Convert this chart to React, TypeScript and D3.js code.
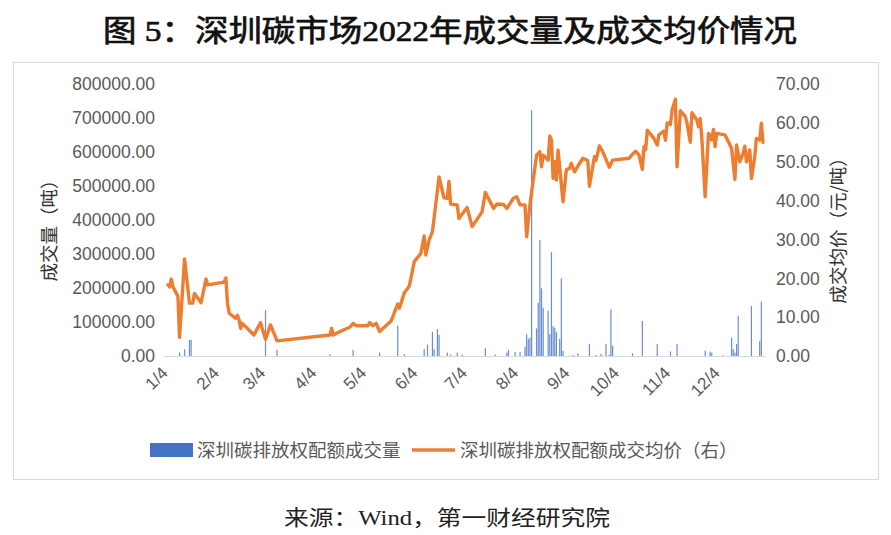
import React from "react";
import * as d3 from "d3";

const priceDates = [
  "2022-01-04","2022-01-05","2022-01-06","2022-01-07","2022-01-10","2022-01-11","2022-01-14","2022-01-17","2022-01-19","2022-01-20",
  "2022-01-24","2022-01-27","2022-01-28","2022-02-07","2022-02-08","2022-02-09","2022-02-10","2022-02-14","2022-02-15","2022-02-16",
  "2022-02-17","2022-02-18","2022-02-25","2022-03-01","2022-03-02","2022-03-04","2022-03-07","2022-03-11","2022-04-12","2022-04-13",
  "2022-04-14","2022-04-20","2022-04-24","2022-04-26","2022-04-28","2022-05-05","2022-05-06","2022-05-08","2022-05-10","2022-05-12",
  "2022-05-19","2022-05-23","2022-05-24","2022-05-27","2022-05-30","2022-06-02","2022-06-06","2022-06-08","2022-06-09","2022-06-11",
  "2022-06-13","2022-06-17","2022-06-20","2022-06-22","2022-06-23","2022-06-24","2022-06-28","2022-06-29","2022-07-04","2022-07-07",
  "2022-07-13","2022-07-15","2022-07-20","2022-07-22","2022-07-26","2022-07-28","2022-08-01","2022-08-03","2022-08-05","2022-08-08",
  "2022-08-09","2022-08-11","2022-08-15","2022-08-17","2022-08-18","2022-08-19","2022-08-22","2022-08-23","2022-08-24","2022-08-25",
  "2022-08-26","2022-08-27","2022-08-28","2022-08-31","2022-09-02","2022-09-04","2022-09-05","2022-09-07","2022-09-09","2022-09-12",
  "2022-09-15","2022-09-16","2022-09-19","2022-09-20","2022-09-22","2022-09-24","2022-09-28","2022-09-30","2022-10-10","2022-10-12",
  "2022-10-14","2022-10-16","2022-10-18","2022-10-19","2022-10-20","2022-10-21","2022-10-25","2022-10-27","2022-10-28","2022-10-31",
  "2022-11-01","2022-11-02","2022-11-04","2022-11-05","2022-11-07","2022-11-08","2022-11-10","2022-11-13","2022-11-14","2022-11-16",
  "2022-11-17","2022-11-20","2022-11-21","2022-11-22","2022-11-23","2022-11-25","2022-11-27","2022-11-29","2022-11-30","2022-12-01",
  "2022-12-02","2022-12-07","2022-12-09","2022-12-11","2022-12-13","2022-12-14","2022-12-16","2022-12-18","2022-12-19","2022-12-20",
  "2022-12-22","2022-12-23","2022-12-25","2022-12-26","2022-12-28","2022-12-29","2022-12-30"
];
const priceValues = [
  18.3,17.8,19.8,17.8,15.3,4.8,25.0,13.6,13.6,16.1,
  13.7,19.8,18.3,19.0,20.1,13.6,11.0,9.7,10.5,9.3,
  7.1,8.4,5.4,8.6,7.1,4.3,8.0,3.9,5.4,7.1,
  5.4,6.7,7.4,8.4,7.8,7.8,8.6,7.8,8.4,6.3,
  9.0,13.4,12.3,16.3,18.0,24.3,26.4,30.9,26.0,29.9,
  32.0,46.1,40.7,40.6,44.9,39.1,38.9,35.4,38.2,33.3,
  37.1,42.1,38.0,39.1,39.0,38.0,40.6,41.0,38.9,38.9,
  30.7,38.9,51.7,52.6,48.7,51.7,50.4,56.6,55.6,45.7,
  50.0,45.3,53.0,39.7,47.9,48.3,49.6,47.4,48.9,50.9,
  50.3,43.7,51.3,50.4,54.1,52.6,48.6,50.4,50.9,51.9,
  52.7,51.7,48.0,53.9,53.1,58.1,56.0,54.3,56.9,57.9,
  55.5,60.0,59.6,63.3,66.1,48.7,63.1,61.6,60.0,55.0,
  62.6,60.7,59.0,61.1,56.0,41.0,57.3,55.6,58.3,53.9,
  57.3,56.9,55.2,53.4,45.5,54.3,50.0,52.2,54.0,50.0,
  53.0,45.7,51.3,56.0,55.6,59.9,55.0
];

const volumeDates = [
  "2022-01-11","2022-01-14","2022-01-17","2022-01-18","2022-03-04","2022-03-11","2022-04-12","2022-04-26","2022-05-12","2022-05-23",
  "2022-05-27","2022-06-08","2022-06-10","2022-06-13","2022-06-14","2022-06-16","2022-06-17","2022-06-22","2022-06-24","2022-06-28",
  "2022-07-01","2022-07-15","2022-07-21","2022-07-28","2022-07-29","2022-08-02","2022-08-05","2022-08-08","2022-08-09","2022-08-10",
  "2022-08-11","2022-08-12","2022-08-15","2022-08-16","2022-08-17","2022-08-18","2022-08-19","2022-08-22","2022-08-23","2022-08-24",
  "2022-08-25","2022-08-26","2022-08-27","2022-08-29","2022-08-30","2022-08-31","2022-09-06","2022-09-09","2022-09-16","2022-09-20",
  "2022-09-23","2022-09-26","2022-09-28","2022-09-29","2022-09-30","2022-10-12","2022-10-18","2022-10-27","2022-11-04","2022-11-08",
  "2022-11-25","2022-11-28","2022-11-29","2022-12-06","2022-12-11","2022-12-12","2022-12-13","2022-12-14","2022-12-15","2022-12-23",
  "2022-12-28","2022-12-29"
];
const volumeValues = [
  10000,20000,47000,48000,135000,18000,5000,18000,10000,89000,
  5000,20000,34000,71000,20000,79000,62000,10000,4000,10000,
  4000,23000,4000,10000,18000,12000,12000,27000,64000,50000,
  54000,723000,81000,157000,341000,199000,142000,133000,64000,305000,
  88000,83000,71000,50000,228000,15000,3000,8000,36000,3000,
  6000,36000,4000,137000,30000,8000,103000,35000,13000,35000,
  16000,13000,10000,2000,54000,20000,10000,35000,118000,147000,
  44000,160000
];

const volumeTicks = [0, 100000, 200000, 300000, 400000, 500000, 600000, 700000, 800000];
const priceTicks = [0, 10, 20, 30, 40, 50, 60, 70];
const xTickDates = ["2022-01-04","2022-02-04","2022-03-04","2022-04-04","2022-05-04","2022-06-04","2022-07-04","2022-08-04","2022-09-04","2022-10-04","2022-11-04","2022-12-04"];
const xTickLabels = ["1/4","2/4","3/4","4/4","5/4","6/4","7/4","8/4","9/4","10/4","11/4","12/4"];

const seriesNames = ["深圳碳排放权配额成交量", "深圳碳排放权配额成交均价（右）"];
const titleText = "图 5：深圳碳市场2022年成交量及成交均价情况";
const sourceText = "来源：Wind，第一财经研究院";
const leftAxisTitle = "成交量（吨）";
const rightAxisTitle = "成交均价（元/吨）";

const parse = d3.timeParse("%Y-%m-%d");

export default function App() {
  const W = 891, H = 535;
  const x = d3.scaleTime()
    .domain([parse("2022-01-04") as Date, parse("2022-12-30") as Date])
    .range([168, 763]);
  const yV = d3.scaleLinear().domain([0, 800000]).range([356, 84]);
  const yP = d3.scaleLinear().domain([0, 70]).range([356, 84]);

  const pricePts = priceDates.map((d, i) => ({ d: parse(d) as Date, v: priceValues[i] }));
  const volPts = volumeDates.map((d, i) => ({ d: parse(d) as Date, v: volumeValues[i] }));

  const line = d3.line<{ d: Date; v: number }>()
    .x(p => x(p.d))
    .y(p => yP(p.v));

  const numFont = "'Liberation Sans', Arial, sans-serif";
  const cjkFont = "'Noto Sans CJK SC', 'Liberation Sans', sans-serif";
  const axisColor = "#595959";

  return (
    <svg width={W} height={H} style={{ position: "absolute", left: 0, top: 0, background: "#fff" }}>
      <rect x={0} y={0} width={W} height={H} fill="#fff" />
      <text x={103} y={41} fontSize={30} fontWeight="normal" fill="#111" stroke="#111" strokeWidth={0.7}
        fontFamily="'Liberation Serif', 'Noto Sans CJK SC', serif"
        textLength={694} lengthAdjust="spacingAndGlyphs">{titleText}</text>

      <rect x={13.5} y={62.5} width={865} height={417} fill="none" stroke="#d9d9d9" strokeWidth={1} />

      {/* axis baseline */}
      <line x1={164} x2={766} y1={356.5} y2={356.5} stroke="#d9d9d9" strokeWidth={1} />

      {/* volume bars */}
      <g>
        {volPts.map((p, i) => (
          <rect key={i} x={x(p.d) - 0.6} width={1.2} y={yV(p.v)} height={356 - yV(p.v)} fill="#4472C4" opacity={0.8} />
        ))}
      </g>

      {/* price line */}
      <path d={line(pricePts) || ""} fill="none" stroke="#ED7D31" strokeWidth={3.4}
        strokeLinejoin="round" strokeLinecap="round" />

      {/* left axis */}
      <g fontFamily={numFont} fontSize={17.5} fill={axisColor} textAnchor="end">
        {volumeTicks.map(t => (
          <text key={t} x={155} y={yV(t)} dy="0.36em">{t.toFixed(2)}</text>
        ))}
      </g>
      {/* right axis */}
      <g fontFamily={numFont} fontSize={17.5} fill={axisColor} textAnchor="start">
        {priceTicks.map(t => (
          <text key={t} x={776} y={yP(t)} dy="0.36em">{t.toFixed(2)}</text>
        ))}
      </g>
      {/* x axis labels */}
      <g fontFamily={numFont} fontSize={17} fill={axisColor} textAnchor="end">
        {xTickDates.map((d, i) => {
          const px = x(parse(d) as Date);
          return (
            <text key={d} transform={`translate(${px + 1},${374}) rotate(-45)`}>{xTickLabels[i]}</text>
          );
        })}
      </g>

      {/* axis titles */}
      <text transform={`translate(56,226) rotate(-90)`} textAnchor="middle" fontFamily={cjkFont}
        fontSize={18.5} fill="#333">{leftAxisTitle}</text>
      <text transform={`translate(845,226) rotate(-90)`} textAnchor="middle" fontFamily={cjkFont}
        fontSize={18.5} fill="#333">{rightAxisTitle}</text>

      {/* legend */}
      <rect x={150} y={443} width={43} height={14} fill="#4472C4" />
      <text x={197} y={457} fontFamily={cjkFont} fontSize={18.5} fill={axisColor}>{seriesNames[0]}</text>
      <line x1={412} x2={455} y1={450} y2={450} stroke="#ED7D31" strokeWidth={3.4} />
      <text x={460} y={457} fontFamily={cjkFont} fontSize={18.5} fill={axisColor}>{seriesNames[1]}</text>

      {/* source */}
      <text x={284} y={525} fontFamily="'Liberation Serif', 'Noto Sans CJK SC', serif" fontSize={21}
        fill="#222" textLength={326} lengthAdjust="spacingAndGlyphs">{sourceText}</text>
    </svg>
  );
}
